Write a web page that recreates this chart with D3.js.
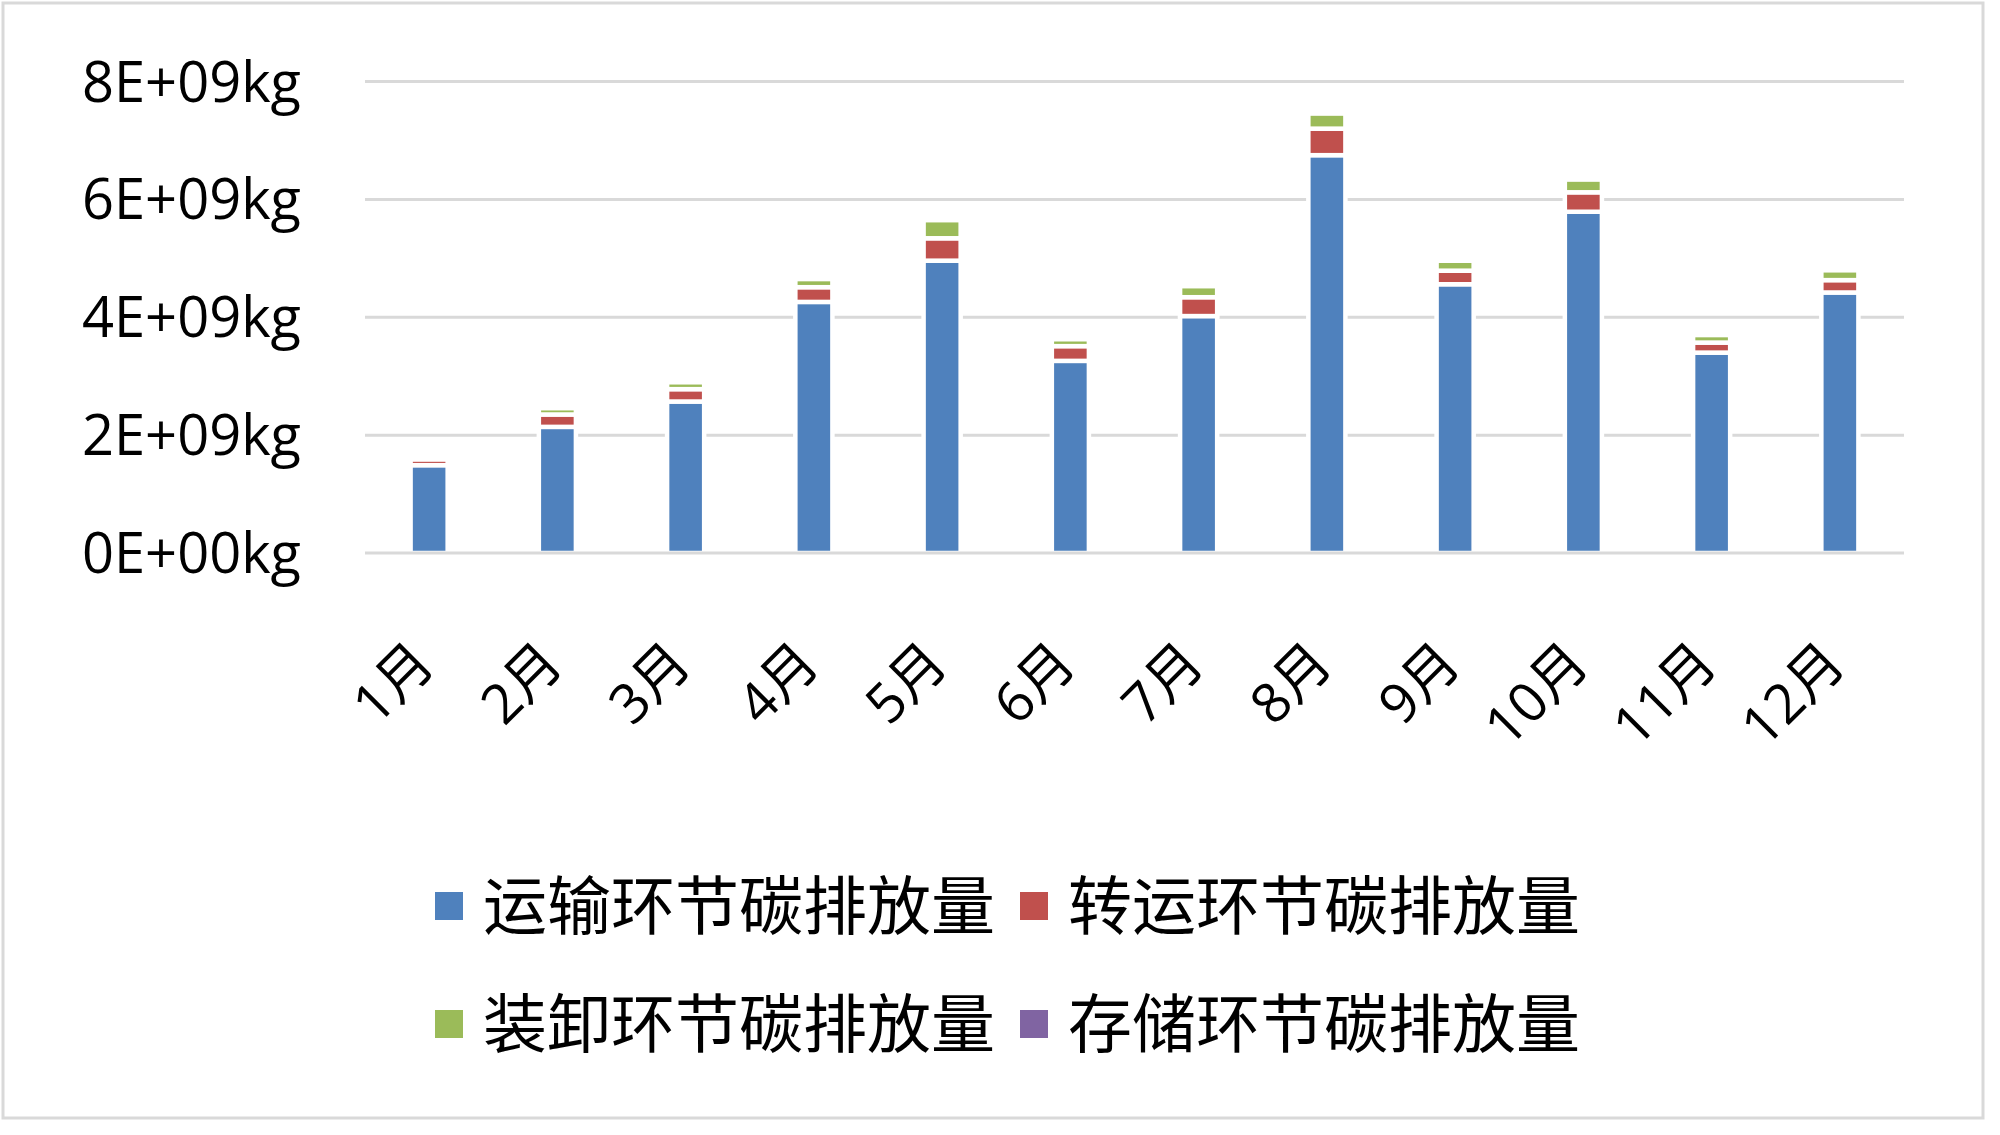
<!DOCTYPE html>
<html><head><meta charset="utf-8">
<script src="https://cdn.jsdelivr.net/npm/d3@7"></script>
<style>body{margin:0;background:#fff}</style>
</head><body>
<svg id="c" width="2000" height="1135"></svg>
<script>
const months = ["1月","2月","3月","4月","5月","6月","7月","8月","9月","10月","11月","12月"];
const seriesNames = ["运输环节碳排放量","转运环节碳排放量","装卸环节碳排放量","存储环节碳排放量"];
const transport = [1.49e9,2.14e9,2.57e9,4.26e9,4.96e9,3.26e9,4.02e9,6.75e9,4.56e9,5.79e9,3.40e9,4.42e9];
const transfer  = [0.10e9,0.21e9,0.21e9,0.25e9,0.38e9,0.25e9,0.32e9,0.45e9,0.23e9,0.33e9,0.17e9,0.21e9];
const loading   = [0.04e9,0.11e9,0.12e9,0.14e9,0.31e9,0.12e9,0.19e9,0.26e9,0.17e9,0.22e9,0.13e9,0.17e9];
const storage   = [0.004e9,0.006e9,0.006e9,0.008e9,0.010e9,0.006e9,0.008e9,0.012e9,0.008e9,0.010e9,0.006e9,0.008e9];
const yTicks = [0,2e9,4e9,6e9,8e9];
const yTickLabels = ["0E+00kg","2E+09kg","4E+09kg","6E+09kg","8E+09kg"];
const colors = ["#4f81bd","#c0504d","#9bbb59","#8064a2"];

const svg = d3.select("#c");
const plot = {left:365, right:1904, top:81.5, bottom:553};

// outer border
svg.append("rect").attr("x",3).attr("y",3).attr("width",1980).attr("height",1115)
  .attr("fill","#fff").attr("stroke","#d9d9d9").attr("stroke-width",3);

const rows = months.map((m,i)=>({month:m, s0:transport[i], s1:transfer[i], s2:loading[i], s3:storage[i]}));
const keys = ["s0","s1","s2","s3"];
const stacked = d3.stack().keys(keys)(rows);

const x = d3.scaleBand().domain(months).range([plot.left, plot.right])
  .paddingInner(0.711).paddingOuter(0.711/2);
const y = d3.scaleLinear().domain([0,8e9]).range([plot.bottom, plot.top]);

// gridlines
svg.append("g").selectAll("line").data(yTicks.slice(1)).join("line")
  .attr("x1",plot.left).attr("x2",plot.right)
  .attr("y1",d=>y(d)).attr("y2",d=>y(d))
  .attr("stroke","#d9d9d9").attr("stroke-width",3);

// bars
svg.append("g").selectAll("g").data(stacked).join("g")
  .attr("fill",(d,i)=>colors[i])
  .selectAll("rect").data(d=>d).join("rect")
  .attr("x",d=>x(d.data.month)).attr("width",x.bandwidth())
  .attr("y",d=>y(d[1])).attr("height",d=>y(d[0])-y(d[1]))
  .attr("stroke","#fff").attr("stroke-width",4.5);

// baseline axis
svg.append("line").attr("x1",plot.left).attr("x2",plot.right)
  .attr("y1",y(0)).attr("y2",y(0)).attr("stroke","#d9d9d9").attr("stroke-width",3);

// y labels
const yAxis = d3.axisLeft(y).tickValues(yTicks).tickSize(0).tickPadding(0)
  .tickFormat((d,i)=>yTickLabels[i]);
const ya = svg.append("g").attr("transform","translate(301,0)").call(yAxis);
ya.select(".domain").remove();
ya.selectAll("text").attr("font-family","'Open Sans', sans-serif").attr("font-size",56)
  .attr("fill","#000").attr("dy","0.35em");

// x labels
const xAxis = d3.axisBottom(x).tickSize(0).tickPadding(0);
const xa = svg.append("g").call(xAxis);
xa.select(".domain").remove();
xa.selectAll(".tick").attr("transform",d=>`translate(${x(d)+x.bandwidth()/2+8},666)`);
xa.selectAll("text").attr("font-family","'Open Sans','Noto Sans CJK SC', sans-serif").attr("font-size",55)
  .attr("fill","#000").attr("text-anchor","end").attr("dy",0).attr("y",0)
  .attr("transform","rotate(-45)");

// legend
const legendPos = [[435,906],[1020,906],[435,1024],[1020,1024]];
const lg = svg.append("g").selectAll("g").data(seriesNames).join("g")
  .attr("transform",(d,i)=>`translate(${legendPos[i][0]},${legendPos[i][1]})`);
lg.append("rect").attr("x",0).attr("y",-14).attr("width",28).attr("height",28).attr("fill",(d,i)=>colors[i]);
lg.append("text").attr("x",48).attr("y",0).attr("dy","0.36em")
  .attr("font-family","'Noto Sans CJK SC', sans-serif").attr("font-size",64).attr("fill","#000")
  .text(d=>d);
</script>
</body></html>
